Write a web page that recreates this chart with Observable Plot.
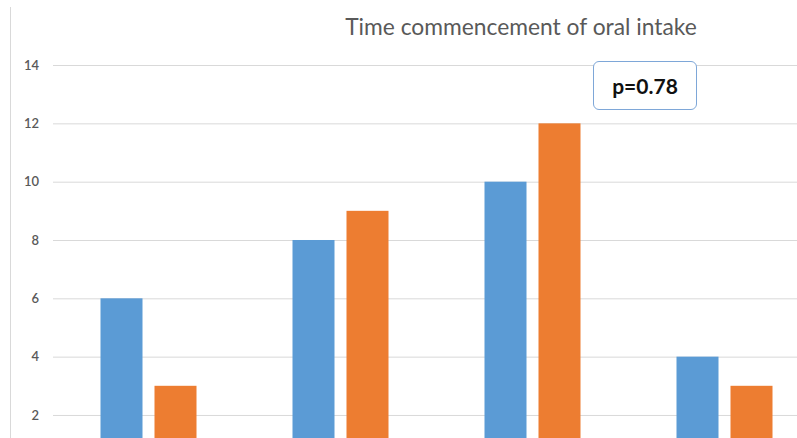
<!DOCTYPE html>
<html><head><meta charset="utf-8">
<script src="https://cdn.jsdelivr.net/npm/d3@7"></script>
<script src="https://cdn.jsdelivr.net/npm/@observablehq/plot@0.6"></script>
<style>
html,body{margin:0;padding:0;background:#fff;overflow:hidden;}
#wrap{position:relative;width:797px;height:438px;overflow:hidden;}
#border{position:absolute;left:10px;top:7px;bottom:0;width:0;border-left:1px solid #d9d9d9;}
#chart{position:absolute;left:0;top:0;}
#title{position:absolute;left:271px;width:500px;top:13px;text-align:center;font-family:Lato,sans-serif;font-size:22.8px;line-height:27.6px;color:#595959;white-space:nowrap;}
#pbox{position:absolute;left:593px;top:61px;width:102px;height:47px;border:1.5px solid #7ea7d8;border-radius:6px;background:#fff;font-family:Lato,sans-serif;font-weight:bold;font-size:21px;line-height:47px;text-align:center;color:#111;}
</style></head><body>
<div id="wrap">
 <div id="border"></div>
 <div id="chart"></div>
 <div id="title"></div>
 <div id="pbox"></div>
</div>
<script>
const groups = ["Group 1", "Group 2", "Group 3", "Group 4"];
const series = ["Series 1", "Series 2"];
const series1 = [6, 8, 10, 4];
const series2 = [3, 9, 12, 3];
const yTicks = [2, 4, 6, 8, 10, 12, 14];
const titleText = "Time commencement of oral intake";
const pLabel = "p=0.78";

const data = groups.flatMap((g, i) => [
  {group: g, series: series[0], value: series1[i]},
  {group: g, series: series[1], value: series2[i]}
]);

const chart = Plot.plot({
  width: 797,
  height: 438,
  marginTop: 7,
  marginBottom: 0,
  marginLeft: 52.5,
  marginRight: -23.5,
  style: {background: "transparent", fontFamily: "Lato, sans-serif", overflow: "hidden"},
  fx: {domain: groups, padding: 0, axis: null},
  x: {domain: series, paddingInner: 0.22, paddingOuter: 0.87, axis: null},
  y: {domain: [1.21, 15.99], axis: null},
  color: {domain: series, range: ["#5B9BD5", "#ED7D31"]},
  marks: [
    Plot.gridY(yTicks, {stroke: "#d9d9d9", strokeOpacity: 1, strokeWidth: 1}),
    Plot.axisY(yTicks, {tickSize: 0, tickPadding: 14.5, fontSize: 13, fill: "#595959", fontWeight: 600, label: null}),
    Plot.barY(data, {fx: "group", x: "series", y: "value", fill: "series", clip: true})
  ]
});
document.getElementById("chart").appendChild(chart);
document.getElementById("title").textContent = titleText;
document.getElementById("pbox").textContent = pLabel;
</script>
</body></html>
